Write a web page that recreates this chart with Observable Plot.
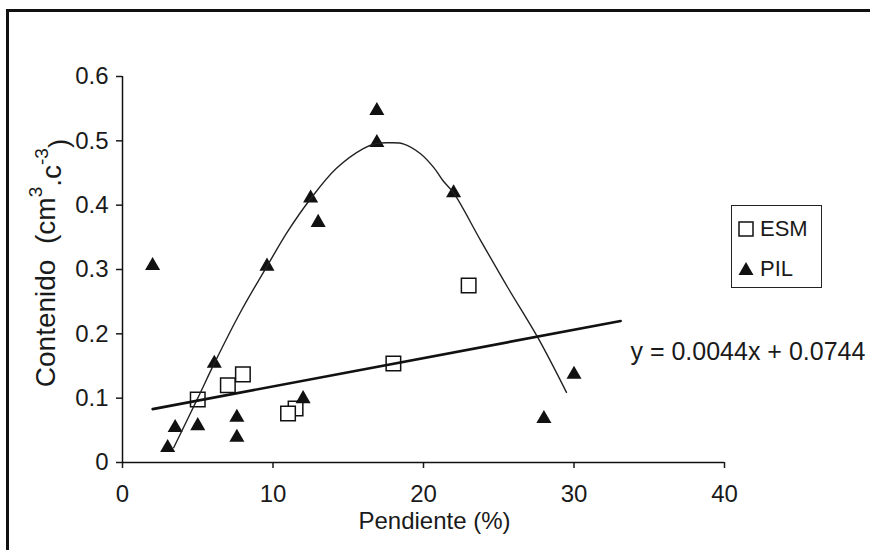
<!DOCTYPE html>
<html>
<head>
<meta charset="utf-8">
<script src="https://cdn.jsdelivr.net/npm/d3@7"></script>
<script src="https://cdn.jsdelivr.net/npm/@observablehq/plot@0.6"></script>
<style>
  html, body { margin: 0; padding: 0; background: #fff; }
  #wrap { position: relative; width: 870px; height: 550px; overflow: hidden; font-family: "Liberation Sans", Arial, sans-serif; color: #1a1a1a; }
  #frame { position: absolute; left: 6px; top: 9px; right: -10px; bottom: -10px; border-top: 3px solid #111; border-left: 3px solid #111; }
  #chart { position: absolute; left: 0; top: 0; }
  #legend { position: absolute; left: 731px; top: 205px; width: 91px; height: 83px; box-sizing: border-box; border: 1.5px solid #222; background: #fff; }
  #legend .row { position: absolute; left: 0; height: 30px; display: flex; align-items: center; font-size: 22px; }
  #legend svg { margin-left: 6px; margin-right: 6px; }
</style>
</head>
<body>
<div id="wrap">
  <div id="frame"></div>
  <div id="chart"></div>
  <div id="legend"></div>
</div>
<script>
// ---- data ----
const esmX = [5, 7, 8, 11.5, 11, 18, 23];
const esmY = [0.098, 0.12, 0.137, 0.084, 0.076, 0.154, 0.275];

const pilX = [2, 3, 3.5, 5, 6.1, 7.6, 7.6, 9.6, 12, 12.5, 13, 16.9, 16.9, 22, 28, 30];
const pilY = [0.306, 0.023, 0.054, 0.057, 0.154, 0.07, 0.039, 0.305, 0.099, 0.411, 0.373, 0.547, 0.497, 0.419, 0.068, 0.137];

// polynomial trend line of PIL
const polyX = [3.4, 5.0, 6.1, 7.8, 9.6, 11.0, 12.5, 14.2, 16.0, 16.9, 17.8, 18.7, 19.8, 20.7, 21.3, 22.0, 23.8, 25.6, 27.6, 29.5];
const polyY = [0.023, 0.10, 0.154, 0.232, 0.305, 0.36, 0.41, 0.457, 0.488, 0.496, 0.497, 0.495, 0.48, 0.458, 0.438, 0.419, 0.345, 0.272, 0.194, 0.109];

// linear trend line of ESM (end points)
const linX = [2, 33.1];
const linY = [0.083, 0.220];

const eqText = ["y = 0.0044x + 0.0744"];
const eqX = [33.75];
const eqY = [0.171];

const xTicks = [0, 10, 20, 30, 40];
const xTickLabels = ["0", "10", "20", "30", "40"];
const yTicks = [0, 0.1, 0.2, 0.3, 0.4, 0.5, 0.6];
const yTickLabels = ["0", "0.1", "0.2", "0.3", "0.4", "0.5", "0.6"];

const xTitle = "Pendiente (%)";
const seriesNames = ["ESM", "PIL"];

// ---- build tables ----
const esm = esmX.map((x, i) => ({x, y: esmY[i]}));
const pil = pilX.map((x, i) => ({x, y: pilY[i]}));
const poly = polyX.map((x, i) => ({x, y: polyY[i]}));
const lin = linX.map((x, i) => ({x, y: linY[i]}));
const eq = eqText.map((t, i) => ({t, x: eqX[i], y: eqY[i]}));

const chart = Plot.plot({
  width: 870,
  height: 550,
  marginLeft: 122,
  marginRight: 146,
  marginTop: 76,
  marginBottom: 88,
  style: { fontFamily: "Liberation Sans, Arial, sans-serif", fontSize: "24px", color: "#1a1a1a", background: "transparent", overflow: "visible" },
  x: { domain: [0, 40] },
  y: { domain: [0, 0.6] },
  marks: [
    Plot.axisX({ ticks: xTicks, tickFormat: (d) => xTickLabels[xTicks.indexOf(d)], tickSize: 6, tickPadding: 16, strokeWidth: 1.5, label: null, fontSize: 24 }),
    Plot.axisY({ ticks: yTicks, tickFormat: (d) => yTickLabels[yTicks.findIndex(v => Math.abs(v - d) < 1e-9)], tickSize: 6, tickPadding: 8, strokeWidth: 1.5, label: null, fontSize: 24 }),
    Plot.ruleX([0], { y1: 0, y2: 0.6, stroke: "#111", strokeWidth: 1.5 }),
    Plot.ruleY([0], { x1: 0, x2: 40, stroke: "#111", strokeWidth: 1.5 }),
    Plot.dot(esm, { x: "x", y: "y", symbol: "square", r: 8.2, fill: "#fff", stroke: "#111", strokeWidth: 1.5 }),
    Plot.dot(pil, { x: "x", y: "y", symbol: "triangle", r: 5.6, fill: "#111", stroke: "none" }),
    Plot.line(poly, { x: "x", y: "y", curve: "catmull-rom", stroke: "#222", strokeWidth: 1.4 }),
    Plot.line(lin, { x: "x", y: "y", stroke: "#111", strokeWidth: 2.6 }),
    Plot.text(eq, { x: "x", y: "y", text: "t", textAnchor: "start", fontSize: 25, fill: "#1a1a1a" }),
    Plot.text([xTitle], { frameAnchor: "bottom", text: d => d, dx: 11, dy: 66, fontSize: 24, fill: "#1a1a1a" })
  ]
});
document.getElementById("chart").appendChild(chart);

// y-axis title with superscripts
const svg = d3.select(chart);
const yt = svg.append("text")
  .attr("transform", "translate(55,263) rotate(-90)")
  .attr("text-anchor", "middle")
  .attr("fill", "#1a1a1a")
  .style("font-family", "Liberation Sans, Arial, sans-serif")
  .style("font-size", "28px");
yt.append("tspan").text("Contenido\u00a0\u00a0(cm");
yt.append("tspan").attr("dy", "-0.7em").style("font-size", "19px").text("3");
yt.append("tspan").attr("dy", "0.7em").text(".c");
yt.append("tspan").attr("dy", "-0.7em").style("font-size", "19px").text("-3");
yt.append("tspan").attr("dy", "0.7em").text(")");

// legend
const legend = d3.select("#legend");
const symbols = [
  { name: seriesNames[0], draw: s => s.append("rect").attr("x", 1).attr("y", 1).attr("width", 14).attr("height", 14).attr("fill", "#fff").attr("stroke", "#111").attr("stroke-width", 1.5) },
  { name: seriesNames[1], draw: s => s.append("path").attr("d", "M8,1 L15.5,14 L0.5,14 Z").attr("fill", "#111") }
];
symbols.forEach((d, i) => {
  const row = legend.append("div").attr("class", "row").style("top", (i === 0 ? 8 : 48) + "px");
  const s = row.append("svg").attr("width", 16).attr("height", 16);
  d.draw(s);
  row.append("span").text(d.name);
});
</script>
</body>
</html>
